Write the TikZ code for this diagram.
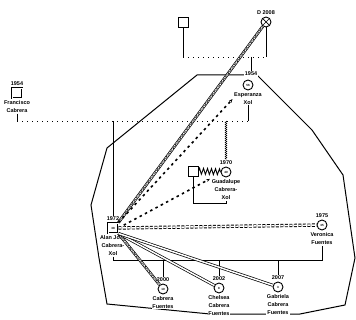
\documentclass[tikz,border=0pt]{standalone}
\usepackage{fontspec}
\setmainfont{Liberation Sans}
\usetikzlibrary{arrows.meta,decorations.pathmorphing,positioning}

\begin{document}
\begin{tikzpicture}[x=1pt, y=-1pt, >={Stealth[length=3.5pt,width=3pt]}, line width=0.9pt,
  lbl/.style={font=\fontsize{5.5}{8}\selectfont\bfseries, align=center, inner sep=0.6pt, fill=white},
  male/.style={draw, rectangle, minimum size=10pt, inner sep=0pt, fill=white, font=\fontsize{3}{3}\selectfont\bfseries},
  female/.style={draw, circle, minimum size=10pt, inner sep=0pt, fill=white, font=\fontsize{3}{3}\selectfont\bfseries},
  index/.style={male, double, double distance=0.8pt},
  deceased/.style={female, path picture={\draw[line width=0.7pt] (path picture bounding box.north west) -- (path picture bounding box.south east) (path picture bounding box.north east) -- (path picture bounding box.south west);}},
  dots/.style={dash pattern=on 1pt off 4pt},
  zz/.style={line width=0.5pt, decorate, decoration={zigzag, amplitude=0.8pt, segment length=2pt}},
  hatch/.style={line width=0.4pt, decorate, decoration={zigzag, amplitude=0.6pt, segment length=3pt}},
  dbl/.style={double, double distance=1.5pt, line width=0.7pt},
  dbldash/.style={dbl, line width=0.9pt, dash pattern=on 3pt off 1.5pt},
  distant/.style={line width=1.6pt, dash pattern=on 2.5pt off 3.5pt, shorten >=1pt},
  boundary/.style={line width=1pt}]
\useasboundingbox (0,0) rectangle (356,320);

% household boundary
\draw[boundary] (107,148) -- (197,75) -- (257,75) -- (312,130) -- (343,175) -- (355,258)
  -- (345,305) -- (300,314) -- (210,314) -- (107,304) -- (99,258) -- (91,205) -- cycle;

% grandparents
\node[male] (gpa) at (183,22) {};
\node[deceased] (gma) at (266,22) {};
\node[lbl, above=1pt of gma] {D 2008};
\coordinate (gbar) at (224,57);

% parents
\node[index] (fra) at (17,93) {};
\node[lbl, above=1pt of fra] {1954};
\node[lbl, below=1pt of fra] (fran) {Francisco\\Cabrera};
\node[female] (esp) at (248,85) {56};
\node[lbl] (espy) at (251,74) {1954};
\node[lbl, below=1pt of esp] (espn) {Esperanza\\Xol};
\coordinate (pbar) at (130,121);

% siblings
\node[index] (alan) at (113,228) {38};
\node[lbl, above=1pt of alan] (alany) {1972};
\node[lbl, below=1pt of alan] (alann) {Alan Jose\\Cabrera-\\Xol};
\node[male] (guah) at (193,171) {};
\node[female] (gua) at (226,172) {40};
\node[lbl, above=1pt of gua] (guay) {1970};
\node[lbl, below=1pt of gua] (guan) {Guadalupe\\Cabrera-\\Xol};
\coordinate (gbot) at (210,203);

\node[female] (ver) at (322,225) {35};
\node[lbl, above=1pt of ver] {1975};
\node[lbl, below=1pt of ver] (vern) {Veronica\\Fuentes};
\coordinate (cbar) at (220,260);

% children
\node[female] (kid1) at (163,289) {10};
\node[lbl, above=1pt of kid1] (kid1y) {2000};
\node[lbl, below=1pt of kid1] {Cabrera\\Fuentes};
\node[female] (kid2) at (219,288) {8};
\node[lbl, above=1pt of kid2] (kid2y) {2002};
\node[lbl, below=1pt of kid2] {Chelsea\\Cabrera\\Fuentes};
\node[female] (kid3) at (278,287) {3};
\node[lbl, above=1pt of kid3] (kid3y) {2007};
\node[lbl, below=1pt of kid3] {Gabriela\\Cabrera\\Fuentes};

% family lines
\draw (gpa) -- (gpa |- gbar);
\draw (gma) -- (gma |- gbar);
\draw[dots] (gpa |- gbar) -- (gma |- gbar);
\draw (espy |- gbar) -- (espy);
\draw[dots] (fra |- pbar) -- (espn |- pbar);
\draw (fran) -- (fra |- pbar);
\draw (espn) -- (espn |- pbar);
\draw (alany) -- (alany |- pbar);
\draw[zz] (guay |- pbar) -- (guay);
\draw[decorate, decoration={zigzag, amplitude=3pt, segment length=4pt}] (guah) -- (gua);
\draw (guah) |- (gbot -| guan) -- (guan);
\draw (alann) -- (alann |- cbar) -- (vern |- cbar) -- (vern);
\draw (kid1y) -- (kid1y |- cbar);
\draw (kid2y) -- (kid2y |- cbar);
\draw (kid3y) -- (kid3y |- cbar);

% relationship lines
\draw[dbl] (alan.north east) -- (gma);
\draw[hatch] (alan.north east) -- (gma);
\draw[distant, ->] (alan.north east) -- (espn.west);
\draw[distant, ->] (alan.east) -- (guan.north west);
\draw[dbldash] (alan.east) -- (ver);
\draw[dbl] (alan.south east) -- (kid1);
\draw[hatch] (alan.south east) -- (kid1);
\draw[dbl] (alan.south east) -- (kid2);
\draw[dbl] (alan.south east) -- (kid3);
\end{tikzpicture}
\end{document}
